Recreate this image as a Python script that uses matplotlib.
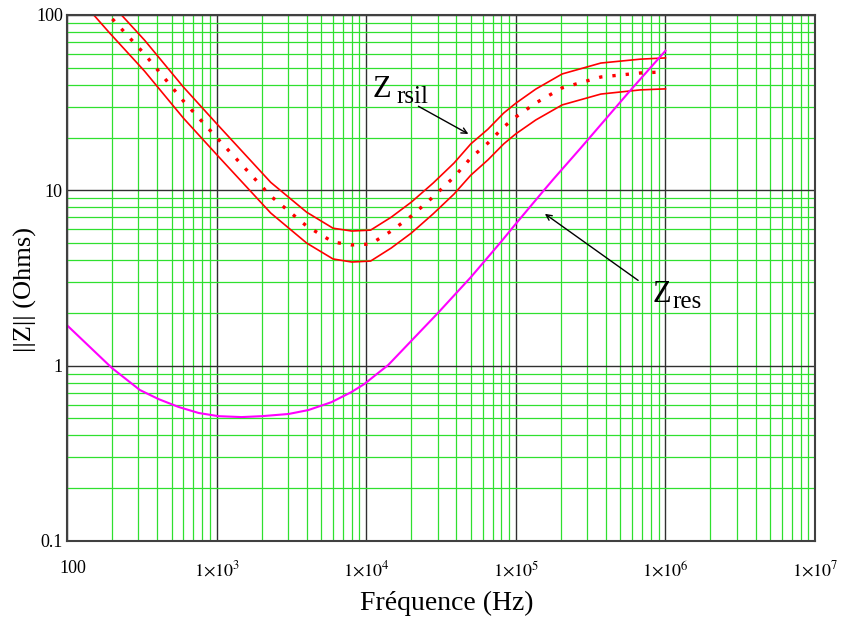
import numpy as np
import matplotlib
matplotlib.use('Agg')
import matplotlib.pyplot as plt
import matplotlib.transforms as mtransforms
from matplotlib.ticker import LogLocator, NullFormatter

plt.rcParams['font.family'] = ['Liberation Serif', 'DejaVu Serif']
plt.rcParams['mathtext.fontset'] = 'stix'

# Z_rsil : valeur nominale et bornes +/- (Hz, Ohms)
f_rsil = [100, 190, 330, 600, 1000, 2300, 4000, 6000, 8000, 10700, 14700, 20000,
          28000, 38600, 50000, 65000, 83000, 100000, 136000, 204000, 370000, 680000, 1000000]
z_rsil = [186, 100, 59.8, 32.3, 20.0, 9.27, 6.25, 5.07, 4.88, 4.94, 5.86, 7.13,
          9.18, 11.9, 15.3, 18.6, 23.0, 26.2, 31.5, 38.4, 44.3, 46.7, 47.4]
z_rsil_max = [223, 120, 71.8, 38.8, 24.0, 11.1, 7.5, 6.08, 5.86, 5.93, 7.03, 8.56,
              11.0, 14.3, 18.4, 22.3, 27.6, 31.4, 37.8, 46.1, 53.2, 56.0, 56.9]
z_rsil_min = [149, 80, 47.8, 25.8, 16.0, 7.42, 5.0, 4.06, 3.90, 3.95, 4.69, 5.70,
              7.34, 9.52, 12.2, 14.9, 18.4, 21.0, 25.2, 30.7, 35.4, 37.4, 37.9]

# Z_res
f_res = [100, 200, 307, 410, 558, 759, 1030, 1470, 2000, 3020, 4100, 5850, 7940,
         9700, 12200, 14000, 30200, 50100, 79400, 98400, 154000, 177000, 271000,
         585000, 1000000]
z_res = [1.70, 0.968, 0.726, 0.644, 0.581, 0.537, 0.515, 0.509, 0.515, 0.530, 0.558,
         0.619, 0.706, 0.785, 0.918, 1.007, 2.0, 3.2, 5.07, 6.34, 10.0, 11.5, 17.4,
         37.3, 62.5]

xticks = [1e2, 1e3, 1e4, 1e5, 1e6, 1e7]
xlabels = ['100', r'$1{\times}10^{3}$', r'$1{\times}10^{4}$', r'$1{\times}10^{5}$',
           r'$1{\times}10^{6}$', r'$1{\times}10^{7}$']
yticks = [0.1, 1, 10, 100]
ylabels = ['0.1', '1', '10', '100']

fig = plt.figure(figsize=(8.42, 6.17), dpi=100)
ax = fig.add_axes([0.0796, 0.1232, 0.8884, 0.8525])
ax.set_xscale('log')
ax.set_yscale('log')
ax.set_xlim(1e2, 1e7)
ax.set_ylim(0.1, 100)

# grille
ax.xaxis.set_minor_locator(LogLocator(base=10, subs=np.arange(2, 10)))
ax.yaxis.set_minor_locator(LogLocator(base=10, subs=np.arange(2, 10)))
ax.xaxis.set_minor_formatter(NullFormatter())
ax.yaxis.set_minor_formatter(NullFormatter())
ax.grid(True, which='minor', color='#2fe02f', linewidth=0.9)
ax.grid(True, which='major', color='#303030', linewidth=1.0)
ax.set_axisbelow(True)

ax.plot(f_rsil, z_rsil_max, color='red', lw=1.2)
ax.plot(f_rsil, z_rsil_min, color='red', lw=1.2)
ax.plot(f_rsil, z_rsil, color='red', lw=2.4, linestyle=(0, (1, 3)))
ax.plot(f_res, z_res, color='#ff00ff', lw=1.5)

ax.set_xticks(xticks)
ax.set_xticklabels(xlabels, fontsize=13)
ax.set_yticks(yticks)
ax.set_yticklabels(ylabels, fontsize=13)
ax.tick_params(which='both', length=0)
ax.tick_params(axis='x', pad=14)
ax.tick_params(axis='y', pad=3)
# "100" un peu decale vers la droite
lab0 = ax.get_xticklabels()[0]
lab0.set_transform(lab0.get_transform() + mtransforms.ScaledTranslation(6/100, 0, fig.dpi_scale_trans))
for s in ax.spines.values():
    s.set_color('#404040')
    s.set_linewidth(1.5)

ax.set_xlabel('Fréquence (Hz)', fontsize=20, va='center')
ax.xaxis.set_label_coords(0.508, -0.118)
ax.set_ylabel('||Z|| (Ohms)', fontsize=19, va='center')
ax.yaxis.set_label_coords(-0.056, 0.479)

# annotations
ax.annotate('', xy=(5.0e4, 20.6), xytext=(2.15e4, 30.7),
            arrowprops=dict(arrowstyle='->', color='black', lw=1.0))
ax.text(1.11e4, 34, 'Z', fontsize=22, ha='left', va='baseline')
ax.text(1.6e4, 31.5, 'rsil', fontsize=18, ha='left', va='baseline')
ax.annotate('', xy=(1.51e5, 7.5), xytext=(6.8e5, 3.0),
            arrowprops=dict(arrowstyle='->', color='black', lw=1.0))
ax.text(8.2e5, 2.31, 'Z', fontsize=22, ha='left', va='baseline')
ax.text(1.11e6, 2.13, 'res', fontsize=18, ha='left', va='baseline')

fig.savefig('out.png', dpi=100)
